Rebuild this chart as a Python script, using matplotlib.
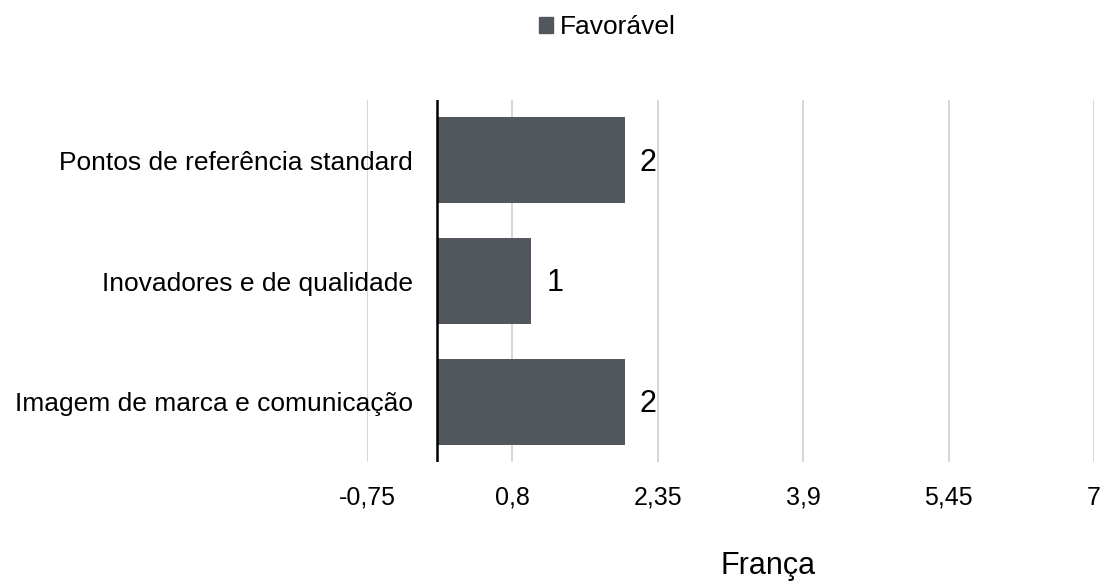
import matplotlib.pyplot as plt
from matplotlib.patches import Patch

# Datos del gráfico
categorias = ['Imagem de marca e comunicação', 'Inovadores e de qualidade', 'Pontos de referência standard']
valores = [2, 1, 2]
ticks_x = [-0.75, 0.8, 2.35, 3.9, 5.45, 7]
etiquetas_x = ['-0,75', '0,8', '2,35', '3,9', '5,45', '7']

plt.rcParams['font.family'] = ['Liberation Sans', 'DejaVu Sans']
color_barra = '#52575e'

fig = plt.figure(figsize=(11.07, 5.82), dpi=100)
ax = fig.add_axes([367 / 1107, 1 - 462 / 582, (1094 - 367) / 1107, (462 - 100) / 582])

ax.barh(categorias, valores, height=0.71, color=color_barra, zorder=3)
for i, v in enumerate(valores):
    ax.text(v + 0.16, i - 0.02, str(v), va='center', ha='left', fontsize=22, color='black')

ax.set_xlim(-0.75, 7)
ax.set_ylim(-0.5, 2.5)
ax.set_xticks(ticks_x)
ax.set_xticklabels(etiquetas_x, fontsize=18)
ax.tick_params(axis='x', length=0, pad=17)
ax.tick_params(axis='y', length=0, pad=-33, labelsize=19)

ax.grid(axis='x', color='#d0d0d0', linewidth=1.2, zorder=0)
ax.axvline(0, color='black', linewidth=1.8, zorder=4)
for s in ax.spines.values():
    s.set_visible(False)

# Título del eje x
ax.set_xlabel('França', fontsize=22)
ax.xaxis.set_label_coords((768 - 367) / 727, -0.245)

fig.legend(handles=[Patch(color=color_barra, label='Favorável')], loc='center',
           bbox_to_anchor=(607 / 1107, 1 - 27 / 582), frameon=False, fontsize=19,
           handlelength=0.55, handleheight=0.55, handletextpad=0.25)

fig.savefig('out.png', dpi=100)
